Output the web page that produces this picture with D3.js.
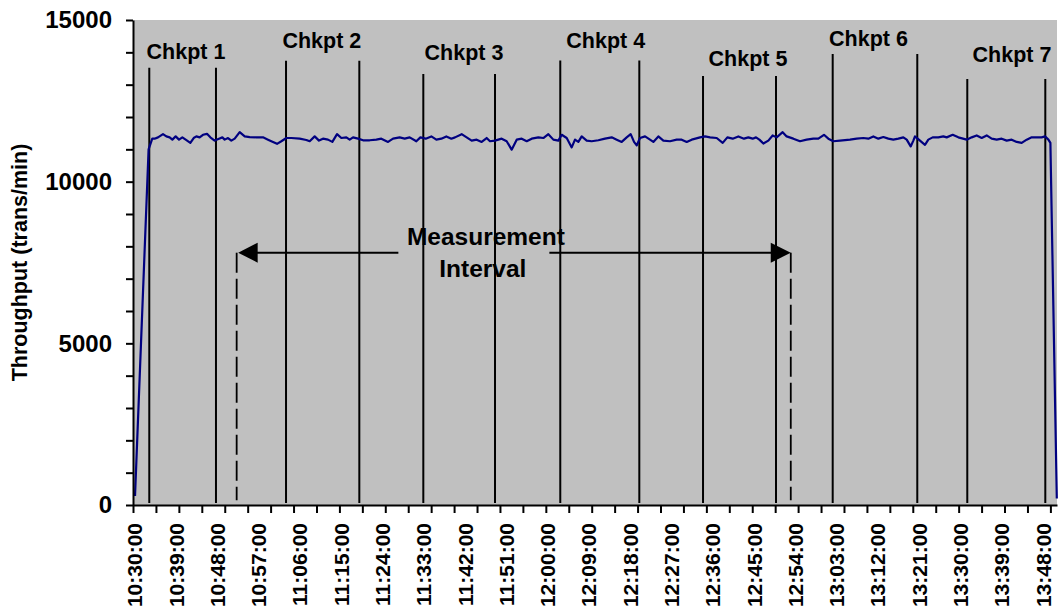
<!DOCTYPE html>
<html>
<head>
<meta charset="utf-8">
<script src="https://cdn.jsdelivr.net/npm/d3@7"></script>
<style>
  html, body { margin: 0; padding: 0; background: #ffffff; }
  svg { display: block; }
  text { font-family: "Liberation Sans", Arial, sans-serif; font-weight: bold; fill: #000; }
</style>
</head>
<body>
<svg id="chart" width="1058" height="610"></svg>
<script>
// ---------------- DATA ----------------
const startClock = "10:30:00";

// elapsed minutes since 10:30:00 and measured throughput (trans/min)
const elapsedMin = [
  0.44, 3.4, 4.2, 4.7, 5.45, 6.54, 7.27, 7.99, 8.58, 9.3, 10.03, 10.76, 11.48, 12.5, 13.23, 13.81,
  14.53, 15.26, 16.13, 16.86, 17.8, 18.75, 19.48, 19.99, 20.71, 21.44, 22.17, 23.26, 24.35, 25.44,
  26.89, 28.34, 29.43, 30.52, 31.4, 32.34, 33.43, 34.52, 36.34, 37.79, 38.52, 39.61, 40.55, 41.42,
  42.51, 43.46, 44.48, 45.42, 46.51, 47.24, 47.97, 49.06, 50.15, 51.6, 53.05, 54.14, 55.6, 56.69,
  58.14, 59.23, 60.32, 61.77, 62.65, 63.81, 65.04, 66.13, 67.22, 68.31, 69.4, 70.2, 71.65, 72.74,
  73.83, 74.92, 76.01, 77.1, 77.83, 78.92, 80.37, 81.46, 82.55, 83.65, 84.74, 85.83, 86.92, 88.37,
  89.46, 90.55, 91.64, 92.73, 93.46, 94.55, 95.64, 96.36, 97.09, 97.82, 98.91, 100.0, 101.45, 102.9,
  104.36, 105.45, 106.54, 107.63, 108.5, 109.23, 109.81, 110.53, 111.63, 112.71, 113.44, 114.53,
  115.62, 117.07, 118.53, 119.62, 120.71, 121.8, 123.62, 124.71, 125.8, 127.25, 128.56, 129.57,
  130.74, 131.97, 133.2, 134.15, 135.09, 135.82, 136.55, 137.42, 138.51, 139.45, 140.32, 141.63,
  142.5, 143.96, 145.41, 146.86, 148.32, 149.41, 150.64, 151.59, 152.68, 154.13, 156.31, 157.77,
  159.22, 160.31, 161.4, 162.49, 163.58, 164.67, 165.76, 166.85, 167.94, 168.67, 169.54, 170.12,
  170.48, 171.57, 172.66, 173.39, 174.33, 175.57, 176.66, 177.39, 178.7, 179.93, 181.75, 182.84,
  183.93, 185.02, 186.11, 187.2, 188.29, 189.38, 190.47, 191.56, 192.65, 193.74, 194.83, 195.92,
  197.01, 198.1, 198.83, 199.56, 200.0, 201.4
];
const throughput = [
  280, 11000, 11330, 11330, 11370, 11470, 11400, 11370, 11300, 11400, 11300, 11370, 11300, 11200, 11350, 11400,
  11370, 11450, 11480, 11370, 11270, 11330, 11370, 11300, 11350, 11270, 11330, 11530, 11400, 11380,
  11370, 11370, 11300, 11230, 11170, 11250, 11350, 11350, 11330, 11290, 11250, 11400, 11270, 11330,
  11300, 11230, 11470, 11350, 11370, 11300, 11370, 11330, 11280, 11280, 11300, 11330, 11230, 11330,
  11370, 11330, 11370, 11250, 11370, 11330, 11400, 11300, 11330, 11400, 11330, 11370, 11470, 11370,
  11270, 11300, 11230, 11350, 11250, 11270, 11330, 11250, 10990, 11300, 11330, 11250, 11330, 11370,
  11350, 11470, 11300, 11270, 11450, 11350, 11060, 11300, 11230, 11400, 11270, 11250, 11280, 11330,
  11370, 11300, 11230, 11370, 11470, 11230, 11120, 11350, 11400, 11300, 11230, 11400,
  11270, 11250, 11300, 11300, 11230, 11300, 11370, 11400, 11370, 11350, 11200, 11370,
  11330, 11400, 11330, 11370, 11330, 11370, 11300, 11180, 11270, 11430, 11370, 11530,
  11400, 11330, 11250, 11300, 11330, 11330, 11450, 11330, 11250, 11270, 11300, 11330,
  11350, 11330, 11400, 11330, 11380, 11330, 11300, 11330, 11370, 11300, 11090, 11270,
  11400, 11270, 11140, 11300, 11370, 11370, 11400, 11370, 11450, 11370, 11300, 11370,
  11430, 11350, 11430, 11330, 11300, 11330, 11270, 11300, 11230, 11200, 11300, 11370,
  11370, 11370, 11400, 11300, 11200, 200
];

// checkpoint marker lines (elapsed minutes) and their top level (trans/min)
const chkptNames    = ["Chkpt 1", "Chkpt 2", "Chkpt 3", "Chkpt 4", "Chkpt 5", "Chkpt 6", "Chkpt 7"];
const chkptStartMin = [3.55, 33.36, 63.29, 93.15, 124.27, 152.54, 181.88];
const chkptEndMin   = [18.09, 49.34, 78.92, 110.38, 140.18, 170.98, 198.89];
const chkptTopLevel = [13525, 13740, 13330, 13750, 13270, 13950, 13175];
const chkptLabelMin   = [11.55, 41.16, 72.16, 103.07, 134.07, 160.35, 191.63];
const chkptLabelLevel = [13785, 14125, 13763, 14125, 13587, 14205, 13692];

// measurement interval
const measureStartMin = 22.6;
const measureEndMin   = 143.4;
const measureLevel    = 7803;
const measureLabelMin = 76.6;
const measureLabelLines = ["Measurement", "Interval"];

// axes
const xTickLabels = ["10:30:00","10:39:00","10:48:00","10:57:00","11:06:00","11:15:00","11:24:00",
  "11:33:00","11:42:00","11:51:00","12:00:00","12:09:00","12:18:00","12:27:00","12:36:00","12:45:00",
  "12:54:00","13:03:00","13:12:00","13:21:00","13:30:00","13:39:00","13:48:00"];
const xMinorStepMin = 5;
const xEndMin = 201.44;
const yMax = 15000;
const yMinorStep = 1000;
const yTickLabels = [0, 5000, 10000, 15000];
const yTitle = "Throughput (trans/min)";

// ---------------- CHART ----------------
const parse = d3.timeParse("%H:%M:%S");
const fmt = d3.timeFormat("%H:%M:%S");
const t0 = parse(startClock);
const toDate = m => new Date(t0.getTime() + m * 60000);

const plot = { left: 133, right: 1057, top: 20, bottom: 505 };
const svg = d3.select("#chart");

const x = d3.scaleTime().domain([t0, toDate(xEndMin)]).range([plot.left, plot.right]);
const y = d3.scaleLinear().domain([0, yMax]).range([plot.bottom, plot.top]);

// plot area
svg.append("rect")
  .attr("x", plot.left).attr("y", plot.top)
  .attr("width", plot.right - plot.left).attr("height", plot.bottom - plot.top)
  .attr("fill", "#c0c0c0");

// checkpoint lines
const chk = svg.append("g");
chkptNames.forEach((name, i) => {
  [chkptStartMin[i], chkptEndMin[i]].forEach(m => {
    chk.append("line")
      .attr("x1", x(toDate(m))).attr("x2", x(toDate(m)))
      .attr("y1", y(chkptTopLevel[i])).attr("y2", y(60))
      .attr("stroke", "#000").attr("stroke-width", 2);
  });
  chk.append("text")
    .attr("x", x(toDate(chkptLabelMin[i])))
    .attr("y", y(chkptLabelLevel[i]))
    .attr("text-anchor", "middle")
    .style("font-size", "21.5px")
    .text(name);
});

// measurement interval
const mx1 = x(toDate(measureStartMin)), mx2 = x(toDate(measureEndMin)), my = y(measureLevel);
const mc = x(toDate(measureLabelMin));
const mg = svg.append("g");
[mx1, mx2].forEach(xx => {
  mg.append("line")
    .attr("x1", xx).attr("x2", xx).attr("y1", my).attr("y2", y(150))
    .attr("stroke", "#000").attr("stroke-width", 1.8)
    .attr("stroke-dasharray", "20,6");
});
mg.append("line").attr("x1", mx1 + 18).attr("x2", mc - 86).attr("y1", my).attr("y2", my)
  .attr("stroke", "#000").attr("stroke-width", 2);
mg.append("line").attr("x1", mc + 65).attr("x2", mx2 - 18).attr("y1", my).attr("y2", my)
  .attr("stroke", "#000").attr("stroke-width", 2);
mg.append("path")
  .attr("d", `M${mx1 + 1.5},${my} L${mx1 + 21},${my - 10} L${mx1 + 21},${my + 10} Z`)
  .attr("fill", "#000");
mg.append("path")
  .attr("d", `M${mx2},${my} L${mx2 - 20},${my - 10} L${mx2 - 20},${my + 10} Z`)
  .attr("fill", "#000");
mg.append("text").attr("x", mc + 1.5).attr("y", my - 8).attr("text-anchor", "middle")
  .style("font-size", "24.5px").text(measureLabelLines[0]);
mg.append("text").attr("x", mc - 1.5).attr("y", my + 24).attr("text-anchor", "middle")
  .style("font-size", "24.5px").text(measureLabelLines[1]);

// throughput line
const pts = elapsedMin.map((m, i) => [toDate(m), throughput[i]]);
svg.append("path")
  .datum(pts)
  .attr("fill", "none")
  .attr("stroke", "#000080")
  .attr("stroke-width", 2.2)
  .attr("stroke-linejoin", "round")
  .attr("d", d3.line().x(d => x(d[0])).y(d => y(d[1])));

// y axis
const yAxis = d3.axisLeft(y)
  .tickValues(d3.range(0, yMax + 1, yMinorStep))
  .tickSize(7).tickSizeOuter(0).tickPadding(14)
  .tickFormat(v => yTickLabels.includes(v) ? String(v) : "");
const gy = svg.append("g").attr("transform", `translate(${plot.left},0)`).call(yAxis);
gy.select(".domain").attr("stroke", "#000").attr("stroke-width", 2);
gy.selectAll(".tick line").attr("stroke", "#000").attr("stroke-width", 2);
gy.selectAll(".tick text")
  .style("font-family", "'Liberation Sans', Arial, sans-serif")
  .style("font-weight", "bold").style("font-size", "24px").attr("fill", "#000");

// x axis: minor ticks every 5 min
const minorTicks = d3.range(0, xEndMin, xMinorStepMin).map(toDate);
const xAxisTicks = d3.axisBottom(x).tickValues(minorTicks).tickSize(8).tickSizeOuter(0).tickFormat("");
const gx = svg.append("g").attr("transform", `translate(0,${plot.bottom})`).call(xAxisTicks);
gx.select(".domain").attr("stroke", "#000").attr("stroke-width", 2);
gx.selectAll(".tick line").attr("stroke", "#000").attr("stroke-width", 2);

// x axis labels
const labelDates = xTickLabels.map(s => parse(s));
const xAxisLabels = d3.axisBottom(x).tickValues(labelDates).tickSize(0).tickFormat(fmt);
const gxl = svg.append("g").attr("transform", `translate(0,${plot.bottom})`).call(xAxisLabels);
gxl.select(".domain").remove();
gxl.selectAll(".tick text")
  .attr("transform", "rotate(-90)")
  .attr("x", -18).attr("y", 0).attr("dy", "0.42em")
  .style("text-anchor", "end")
  .style("font-family", "'Liberation Sans', Arial, sans-serif")
  .style("font-weight", "bold").style("font-size", "21px").attr("fill", "#000");

// y title
svg.append("text")
  .attr("transform", `translate(27.3,${(plot.top + plot.bottom) / 2}) rotate(-90)`)
  .attr("text-anchor", "middle")
  .style("font-size", "21.5px")
  .text(yTitle);
</script>
</body>
</html>
